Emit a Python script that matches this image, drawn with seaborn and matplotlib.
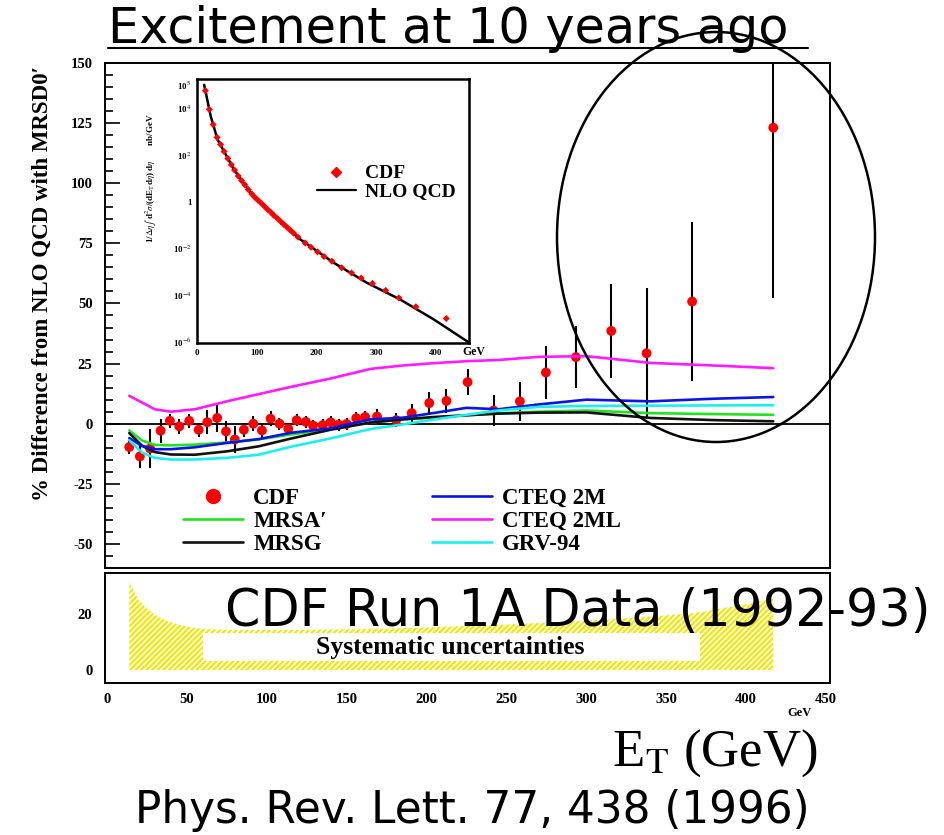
import numpy as np
import pandas as pd
import matplotlib
matplotlib.use("Agg")
import matplotlib.pyplot as plt
import seaborn as sns
from matplotlib.patches import Ellipse, Rectangle
from matplotlib.lines import Line2D
from matplotlib.ticker import FixedLocator, FixedFormatter, MultipleLocator, NullLocator

# ---- CDF inclusive jet data: % difference from NLO QCD (MRSD0') ----
et_cdf = [14, 20.6, 27, 33.6, 39.4, 45.3, 51.5, 57.4, 62.8, 69, 74.5, 80, 85.7, 91.6,
          97, 102.4, 108, 113.5, 118.7, 124.5, 129, 135, 140, 145, 150, 156, 161.6,
          169, 181, 190.7, 201.7, 212.5, 225.7, 242, 258.4, 274.7, 293.5, 315.6,
          337.7, 366.2, 417]
diff_cdf = [-9.7, -13.6, -10.3, -2.9, 1.2, -1.1, 1.2, -2.5, 0.6, 2.4, -3.2, -6.6, -2.5, 0.0,
            -2.8, 2.1, 0.0, -2.1, 1.4, 0.8, -0.8, -0.6, 0.6, -0.4, -0.1, 2.3, 2.8,
            3.0, 1.5, 4.4, 8.6, 9.5, 17.3, 5.5, 9.3, 21.3, 27.7, 38.6,
            29.3, 50.8, 123.1]
err_cdf = [3, 5, 8, 5, 3, 3, 3, 3, 5, 6, 4.5, 5.5, 3, 3,
           3, 3, 2.5, 2.5, 2.5, 2.5, 2.5, 2.5, 2.5, 2.5, 2.5, 2.5, 2.5,
           3, 3, 4, 4.5, 5, 5.5, 6.5, 8, 11, 12.8, 19.5,
           27, 33, 71]

# inset: measured cross section, log10(nb/GeV)
logxsec_cdf = [4.75, 3.95, 3.3, 2.75, 2.45, 2.15, 1.85, 1.58, 1.35, 1.1, 0.9, 0.72, 0.52, 0.33,
               0.18, 0.05, -0.08, -0.22, -0.35, -0.48, -0.6, -0.73, -0.85, -0.97, -1.08, -1.22, -1.35,
               -1.52, -1.77, -1.95, -2.15, -2.35, -2.55, -2.83, -3.05, -3.27, -3.5, -3.8,
               -4.12, -4.5, -5.0]
# inset: NLO QCD prediction, log10(nb/GeV)
et_nlo = [12, 23, 34.5, 62, 90, 118, 173, 229, 284, 340, 396, 455]
logxsec_nlo = [5.0, 3.65, 2.65, 1.37, 0.37, -0.34, -1.62, -2.62, -3.47, -4.19, -5.04, -6.03]

# ---- PDF curves, % difference from MRSD0' ----
et_theory = [14, 22, 30, 40, 55, 75, 95, 115, 140, 165, 185, 205, 225, 245, 270, 300, 340, 380, 417]
mrsa_p = [-2.8, -7.0, -8.8, -9.0, -8.7, -7.8, -6.5, -4.5, -2.2, 0.5, 1.8, 2.6, 3.5, 4.3, 5.0, 5.5, 4.4, 4.0, 3.7]
mrsg = [-3.9, -9.2, -11.8, -12.8, -12.9, -11.5, -9.4, -6.2, -2.5, 0.5, 1.8, 2.8, 3.5, 4.2, 4.6, 4.7, 2.4, 1.5, 1.0]
cteq2m = [-6.0, -9.2, -10.6, -10.6, -9.8, -8.0, -6.4, -3.8, -1.9, 1.8, 2.5, 4.5, 6.6, 6.0, 8.0, 10.0, 9.3, 10.4, 11.1]
cteq2ml = [11.6, 8.8, 6.0, 5.0, 6.0, 9.3, 12.3, 15.3, 18.8, 22.8, 24.2, 25.2, 26.0, 26.5, 27.8, 28.1, 25.3, 24.2, 23.1]
grv94 = [-6.9, -12.0, -14.2, -14.9, -14.9, -14.2, -12.9, -9.6, -6.1, -2.2, -0.3, 1.8, 3.7, 5.5, 7.0, 7.4, 7.5, 7.6, 7.7]

pdf_names = ["MRSA\u2032", "MRSG", "CTEQ 2M", "CTEQ 2ML", "GRV-94"]
pdf_colors = ["#1ee61e", "#111111", "#0a14e6", "#ff19ff", "#19f0f0"]

# ---- systematic uncertainty band (%) ----
et_sys = [14, 17, 20, 24, 28, 33, 38, 44, 50, 56, 62, 80, 120, 160, 200, 240, 280, 320, 350, 370, 385, 400, 417]
sys_hi = [31.5, 28, 25, 22.5, 20.5, 18.8, 17.5, 16.3, 15.5, 15, 14.6, 14.3, 14.3, 14.6, 15.2, 16,
          17, 18.3, 19.5, 20.5, 22, 23.5, 25.5]

main_yticks = [-50, -25, 0, 25, 50, 75, 100, 125, 150]
main_yticklabels = ["-50", "-25", "0", "25", "50", "75", "100", "125", "150"]
sys_yticks = [0, 20]
et_ticks = [0, 50, 100, 150, 200, 250, 300, 350, 400, 450]
inset_xticks = [0, 100, 200, 300, 400]
inset_ydecades = list(range(-6, 6))
inset_ylabels = {5: "10$^{5}$", 4: "10$^{4}$", 2: "10$^{2}$", 0: "1",
                 -2: "10$^{-2}$", -4: "10$^{-4}$", -6: "10$^{-6}$"}

sns.set_style("white")
plt.rcParams["font.family"] = ["Liberation Serif", "DejaVu Sans"]
plt.rcParams["mathtext.fontset"] = "stix"
plt.rcParams["axes.unicode_minus"] = False
plt.rcParams["hatch.linewidth"] = 1.6
for key in ["text.color", "axes.labelcolor", "xtick.color", "ytick.color", "axes.edgecolor"]:
    plt.rcParams[key] = "black"

W, H = 944, 835
fig = plt.figure(figsize=(W / 100, H / 100), dpi=100)
fig.patch.set_facecolor("white")


def fx(px):
    return px / W


def fy(py):
    return 1 - py / H


def ax_rect(x0, y0, x1, y1):
    return [fx(x0), fy(y1), (x1 - x0) / W, (y1 - y0) / H]


tick_font = dict(family="Liberation Serif", weight="bold", size=10.5)
sans = ["DejaVu Sans"]
XLIM = (-1.2, 452.5)

# ---------------- main comparison panel ----------------
ax = fig.add_axes(ax_rect(105, 63, 830, 568))
ax.set_xlim(*XLIM)
ax.set_ylim(-60, 150)
ax.axhline(0, color="black", lw=1.3, zorder=1)

ax.errorbar(et_cdf, diff_cdf, yerr=err_cdf, fmt="none", ecolor="black", elinewidth=1.5, capsize=0, zorder=2)
sns.scatterplot(x=et_cdf, y=diff_cdf, color="red", marker="o", s=50, edgecolor="none", ax=ax, zorder=3)

curves = pd.DataFrame({
    "ET": et_theory * len(pdf_names),
    "diff": mrsa_p + mrsg + cteq2m + cteq2ml + grv94,
    "pdf": [n for n in pdf_names for _ in et_theory],
})
sns.lineplot(data=curves, x="ET", y="diff", hue="pdf", palette=dict(zip(pdf_names, pdf_colors)),
             estimator=None, sort=True, lw=1.9, legend=False, ax=ax, zorder=4)

ax.set_xlabel("")
ax.set_ylabel("")
ax.xaxis.set_major_locator(NullLocator())
ax.yaxis.set_major_locator(FixedLocator(main_yticks))
ax.yaxis.set_major_formatter(FixedFormatter(main_yticklabels))
ax.yaxis.set_minor_locator(MultipleLocator(5))
ax.tick_params(axis="y", which="major", direction="in", length=11, width=1.2, left=True, right=False, pad=9)
ax.tick_params(axis="y", which="minor", direction="in", length=6, width=1.2, left=True, right=False)
for lab in ax.get_yticklabels():
    lab.set_fontproperties(tick_font)
for sp in ax.spines.values():
    sp.set_linewidth(1.4)

handles = [Line2D([], [], ls="none", marker="o", color="red", ms=10)]
handles += [Line2D([], [], color=c, lw=1.9) for c in pdf_colors]
# column-wise order: CDF, MRSA', MRSG | CTEQ 2M, CTEQ 2ML, GRV-94
labels = ["CDF"] + pdf_names
ax.legend(handles, labels, ncol=2, loc="upper left", bbox_to_anchor=(0.108, 0.158),
          frameon=False, borderpad=0, borderaxespad=0, handlelength=2.6, handletextpad=0.45,
          columnspacing=4.6, labelspacing=0.08,
          prop=dict(family="Liberation Serif", weight="bold", size=16.5))

# ---------------- inset: cross section ----------------
axi = fig.add_axes(ax_rect(197, 79, 469, 343))
axi.set_facecolor("white")
axi.set_yscale("log")
axi.set_xlim(0, 455)
axi.set_ylim(10 ** -6.05, 10 ** 5.25)
sns.lineplot(x=et_nlo, y=10 ** np.array(logxsec_nlo), color="black", lw=1.8, ax=axi, zorder=2)
sns.scatterplot(x=et_cdf, y=10 ** np.array(logxsec_cdf), color="red", marker="D", s=13,
                edgecolor="none", ax=axi, zorder=3)
axi.xaxis.set_major_locator(FixedLocator(inset_xticks))
axi.xaxis.set_minor_locator(MultipleLocator(20))
axi.yaxis.set_major_locator(FixedLocator([10.0 ** d for d in inset_ydecades]))
axi.yaxis.set_major_formatter(FixedFormatter([inset_ylabels.get(d, "") for d in inset_ydecades]))
axi.yaxis.set_minor_locator(NullLocator())
axi.tick_params(axis="both", which="major", direction="in", length=6, width=1.1,
                labelsize=6.5, pad=4, top=False, right=False)
axi.tick_params(axis="x", which="minor", direction="in", length=3.5, width=1.1, top=False)
for lab in axi.get_xticklabels() + axi.get_yticklabels():
    lab.set_fontweight("bold")
for sp in axi.spines.values():
    sp.set_linewidth(1.8)
axi.legend([Line2D([], [], ls="none", marker="D", color="red", ms=5),
            Line2D([], [], color="black", lw=1.6)],
           ["CDF", "NLO QCD"], loc="upper left", bbox_to_anchor=(0.44, 0.675), frameon=False,
           borderpad=0, borderaxespad=0, handlelength=2.0, handletextpad=0.5, labelspacing=0.02,
           prop=dict(family="Liberation Serif", weight="bold", size=14))
fig.text(fx(150), fy(178),
         r"1/$\Delta\eta\int$ d$^2\sigma$/(dE$_\mathrm{T}$d$\eta$) d$\eta$       nb/GeV",
         rotation=90, ha="center", va="center", fontsize=6.5, fontweight="bold",
         family="Liberation Serif")
fig.text(fx(474), fy(352), "GeV", ha="center", va="center", fontsize=8.5, fontweight="bold",
         family="Liberation Serif")

# ---------------- systematic uncertainty panel ----------------
ax2 = fig.add_axes(ax_rect(105, 573, 830, 683))
ax2.set_xlim(*XLIM)
ax2.set_ylim(-4.6, 34.6)
ax2.fill_between(et_sys, 0, sys_hi, facecolor="none", edgecolor="#f4e600", hatch="//////", lw=0, zorder=1)
ax2.add_patch(Rectangle((60, 3.3), 311, 9.8, facecolor="white", edgecolor="none", zorder=2))
ax2.text(215, 8.0, "Systematic uncertainties", ha="center", va="center", fontsize=18.5,
         fontweight="bold", family="Liberation Serif", zorder=3)
ax2.xaxis.set_major_locator(FixedLocator(et_ticks))
ax2.xaxis.set_minor_locator(MultipleLocator(10))
ax2.yaxis.set_major_locator(FixedLocator(sys_yticks))
ax2.yaxis.set_minor_locator(MultipleLocator(5))
ax2.tick_params(axis="x", which="major", direction="in", length=9, width=1.2, top=False, pad=7)
ax2.tick_params(axis="x", which="minor", direction="in", length=5, width=1.2, top=False)
ax2.tick_params(axis="y", which="both", direction="in", length=6, width=1.2, right=False, pad=9)
for lab in ax2.get_xticklabels() + ax2.get_yticklabels():
    lab.set_fontproperties(tick_font)
for sp in ax2.spines.values():
    sp.set_linewidth(1.4)

# ---------------- figure annotations ----------------
fig.text(fx(42), fy(283), "% Difference from NLO QCD with MRSD0\u2032", rotation=90, ha="center",
         va="center", fontsize=16.5, fontweight="bold", family="Liberation Serif")
fig.text(fx(108), fy(43), "Excitement at 10 years ago", ha="left", va="baseline", fontsize=35.5,
         family=sans)
fig.add_artist(Line2D([fx(108), fx(808)], [fy(48), fy(48)], transform=fig.transFigure,
                      color="black", lw=1.5))
fig.text(fx(578), fy(626), "CDF Run 1A Data (1992-93)", ha="center", va="baseline", fontsize=36.5,
         family=sans, zorder=5)
fig.text(fx(799), fy(713), "GeV", ha="center", va="center", fontsize=9, fontweight="bold",
         family="Liberation Serif")
fig.text(fx(818), fy(766), r"E$_\mathrm{T}$ (GeV)", ha="right", va="baseline", fontsize=38,
         family="Liberation Serif")
fig.text(fx(472), fy(823), "Phys. Rev. Lett. 77, 438 (1996)", ha="center", va="baseline",
         fontsize=31.5, family=sans)

fig.add_artist(Ellipse((fx(716), fy(237)), 318 / W, 410 / H, transform=fig.transFigure,
                       fill=False, ec="black", lw=1.8, zorder=10))

fig.savefig("out.png", dpi=100, facecolor="white")
